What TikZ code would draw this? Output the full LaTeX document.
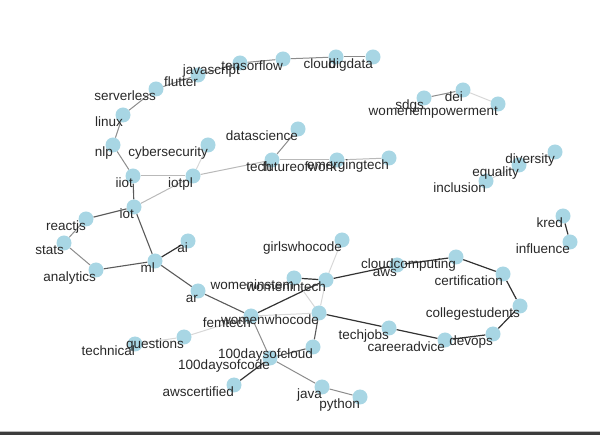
\documentclass[tikz,border=0pt]{standalone}
\usepackage{fontspec}
\setmainfont{Liberation Sans}
\usetikzlibrary{backgrounds}
\definecolor{nodeblue}{RGB}{168,214,228}
\definecolor{textc}{RGB}{40,40,40}
\definecolor{eA}{RGB}{50,50,50}
\definecolor{eB}{RGB}{90,90,90}
\definecolor{eC}{RGB}{140,140,140}
\definecolor{eD}{RGB}{185,185,185}
\definecolor{eE}{RGB}{215,215,215}
\definecolor{bandc}{RGB}{60,60,60}
\begin{document}
\begin{tikzpicture}[x=1pt,y=-1pt,
  dot/.style={circle,fill=nodeblue,draw=none,minimum size=15pt,inner sep=0pt},
  lbl/.style={anchor=base east,inner sep=0pt,font=\fontsize{13.5}{14}\selectfont,text=textc},
  ea/.style={draw=eA,line width=1.2pt},
  eb/.style={draw=eB,line width=1.1pt},
  ec/.style={draw=eC,line width=1pt},
  ed/.style={draw=eD,line width=1pt},
  ee/.style={draw=eE,line width=1pt}]
\useasboundingbox (0,0) rectangle (600,435);
\foreach \n/\x/\y in {
  linux/123/115, serverless/156/89, flutter/198/75, javascript/240/63,
  tensorflow/283/59, cloud/336/57, bigdata/373/57, nlp/113/145,
  iiot/133/176, cybersecurity/208/145, iotpl/193/176, datascience/298/129,
  tech/272/160, futureofwork/337/160, emergingtech/389/158,
  iot/134/207, reactjs/86/219, stats/64/243, analytics/96/270,
  ml/155/261, ai/188/241, ar/198/291, femtech/251/316,
  questions/184/337, technical/135/344,
  girlswhocode/342/240, womeninstem/294/278, womenintech/326/280,
  aws/397/265, cloudcomputing/456/257, certification/503/274,
  collegestudents/520/306, devops/493/334, careeradvice/445/340,
  techjobs/389/328, womenwhocode/319/313, dayscloud/313/347,
  dayscode/270/358, awscertified/234/385, java/322/387, python/360/397,
  sdgs/424/98, dei/463/90, womenempowerment/498/104,
  diversity/555/152, equality/519/165, inclusion/486/181,
  kred/563/216, influence/570/242}
  {\node[dot] (\n) at (\x,\y) {};}
\begin{scope}[on background layer]
% dark edges
\foreach \a/\b in {ml/ai, femtech/womenintech, womenintech/aws, aws/cloudcomputing,
  dayscode/awscertified, womenwhocode/techjobs, techjobs/careeradvice,
  careeradvice/devops, devops/collegestudents, collegestudents/certification,
  certification/cloudcomputing, kred/influence, womeninstem/womenintech}
  {\draw[ea] (\a) -- (\b);}
\foreach \a/\b in {iot/reactjs, analytics/ml, ml/iot, iiot/iot, womenwhocode/dayscloud,
  dayscloud/dayscode, ml/ar, ar/femtech}
  {\draw[eb] (\a) -- (\b);}
\foreach \a/\b in {linux/nlp, nlp/iiot, stats/analytics, reactjs/stats, femtech/dayscode,
  dayscode/java, java/python, tech/datascience, linux/serverless, serverless/flutter,
  tensorflow/cloud, cloud/bigdata, sdgs/dei, javascript/tensorflow, flutter/javascript}
  {\draw[ec] (\a) -- (\b);}
\foreach \a/\b in {iiot/iotpl, iotpl/iot, futureofwork/emergingtech, tech/futureofwork, iotpl/tech}
  {\draw[ed] (\a) -- (\b);}
\foreach \a/\b in {iotpl/cybersecurity, femtech/womenwhocode, femtech/questions,
  questions/technical, girlswhocode/womenintech, womeninstem/womenwhocode,
  womenintech/womenwhocode, dei/womenempowerment, diversity/equality, equality/inclusion}
  {\draw[ee] (\a) -- (\b);}
\end{scope}
\foreach \n/\t in {
  linux/linux, serverless/serverless, flutter/flutter, javascript/javascript,
  tensorflow/tensorflow, cloud/cloud, bigdata/bigdata, nlp/nlp,
  iiot/iiot, cybersecurity/cybersecurity, iotpl/iotpl, datascience/datascience,
  tech/tech, futureofwork/futureofwork, emergingtech/emergingtech,
  iot/iot, reactjs/reactjs, stats/stats, analytics/analytics,
  ml/ml, ai/ai, ar/ar, femtech/femtech,
  questions/questions, technical/technical,
  girlswhocode/girlswhocode, womeninstem/womeninstem, womenintech/womenintech,
  aws/aws, cloudcomputing/cloudcomputing, certification/certification,
  collegestudents/collegestudents, devops/devops, careeradvice/careeradvice,
  techjobs/techjobs, womenwhocode/womenwhocode, dayscloud/100daysofcloud,
  dayscode/100daysofcode, awscertified/awscertified, java/java, python/python,
  sdgs/sdgs, dei/dei, womenempowerment/womenempowerment,
  diversity/diversity, equality/equality, inclusion/inclusion,
  kred/kred, influence/influence}
  {\node[lbl] (\n-l) at ([yshift=-11.5pt]\n.center) {\t};}
\draw[draw=eD,line width=0.8pt] (0,431) -- (600,431);
\fill[bandc] (0,432) rectangle (600,435);
\end{tikzpicture}
\end{document}
